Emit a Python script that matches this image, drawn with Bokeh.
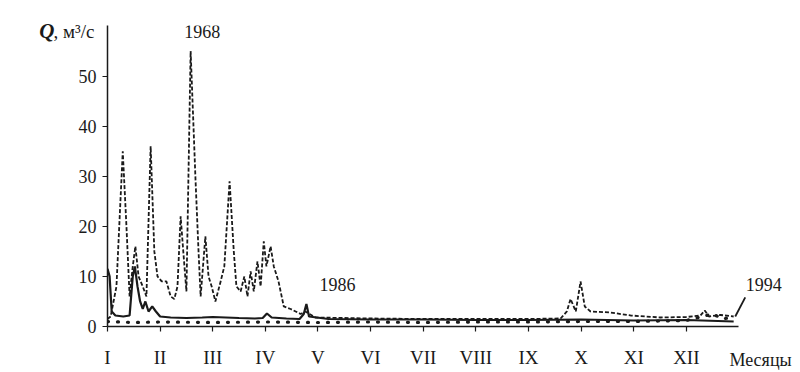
from bokeh.plotting import figure
from bokeh.models import FixedTicker, Range1d, Label, LinearAxis
from bokeh.embed import file_html
from bokeh.resources import INLINE

# ---- data (x in months from 1 Jan, Q in m3/s) ----
months = ["I", "II", "III", "IV", "V", "VI", "VII", "VIII", "IX", "X", "XI", "XII"]
month_pos = [0, 1, 2, 3, 4, 5, 6, 7, 8, 9, 10, 11]
y_ticks = [0, 10, 20, 30, 40, 50]

x_1968 = [0.00, 0.06, 0.17, 0.29, 0.36, 0.42, 0.48, 0.53, 0.59, 0.67, 0.74, 0.82, 0.89, 0.95,
          1.03, 1.12, 1.20, 1.27, 1.33, 1.39, 1.44, 1.50, 1.58, 1.67, 1.73, 1.77, 1.86, 1.92,
          1.98, 2.05, 2.15, 2.22, 2.32, 2.40, 2.45, 2.53, 2.60, 2.66, 2.72, 2.78, 2.85, 2.91,
          2.97, 3.02, 3.10, 3.16, 3.25, 3.35, 3.48, 3.67, 3.76, 3.95, 5.0, 6.0, 7.0, 8.0,
          8.61, 8.73, 8.80, 8.90, 8.99, 9.07, 9.18, 9.56, 9.94, 10.51, 11.0, 11.27, 11.35,
          11.43, 11.65, 11.90]
q_1968 = [1.5, 2, 8, 35, 20, 6, 12, 16, 10, 8, 6, 36, 15, 10,
          9, 9, 6, 5.5, 8, 22, 15, 7, 55, 30, 15, 6, 18, 10,
          8, 5, 9, 12, 29, 15, 8, 7, 10, 6, 11, 7, 13, 8,
          17, 12, 16, 12, 9, 4, 3.5, 2.5, 3, 1.8, 1.6, 1.5, 1.5, 1.5,
          1.6, 3, 5.5, 3, 9, 4, 3, 2.8, 2.2, 1.8, 1.9, 2.2, 3.2,
          2, 2.3, 2]

x_1986 = [0.00, 0.04, 0.08, 0.15, 0.30, 0.42, 0.48, 0.52, 0.57, 0.62, 0.67, 0.72, 0.78, 0.85,
          0.92, 1.0, 1.2, 1.5, 1.8, 2.0, 2.5, 2.8, 2.95, 3.03, 3.12, 3.4, 3.65, 3.73, 3.78,
          3.83, 4.2, 5.0, 6.0, 7.0, 8.0, 9.0, 10.0, 11.0, 11.9]
q_1986 = [11.5, 10, 3, 2.2, 2.0, 2.2, 10, 12, 8, 5, 3.5, 5, 3, 4,
          3, 2, 1.8, 1.7, 1.8, 1.9, 1.7, 1.6, 1.7, 2.6, 1.8, 1.6, 1.5, 2.5, 4.5,
          2, 1.5, 1.4, 1.4, 1.3, 1.3, 1.4, 1.2, 1.3, 1.0]

x_1994 = [0.0, 0.5, 1.0, 2.0, 3.0, 4.0, 5.0, 6.0, 7.0, 8.0, 9.0, 10.0, 11.0, 11.5, 11.7, 11.92]
q_1994 = [1.0, 0.8, 0.9, 0.8, 0.9, 0.8, 0.9, 0.8, 0.9, 0.9, 1.0, 1.0, 1.2, 2.5, 1.5, 2.0]

# leader line for the 1994 label
lead_x = [11.93, 12.12]
lead_q = [2.0, 5.8]

# positions of the axis titles (in axis units)
x_title_pos = 12.41      # "Месяцы"
y_title_pos = 59.0       # "Q, м³/с"

INK = "#1a1a1a"
SERIF = "Liberation Serif"

p = figure(width=800, height=372, output_backend="svg", toolbar_location=None,
           x_range=Range1d(0, 13.17), y_range=Range1d(0, 60.1),
           min_border_left=107, min_border_right=0, min_border_top=25, min_border_bottom=44)
p.outline_line_color = None
p.xgrid.grid_line_color = None
p.ygrid.grid_line_color = None

p.line(x_1968, q_1968, line_color=INK, line_width=1.8, line_dash="4 2")
p.line(x_1986, q_1986, line_color=INK, line_width=2.2)
p.line(x_1994, q_1994, line_color=INK, line_width=3.2, line_dash="1 9", line_cap="round")
p.line(lead_x, lead_q, line_color=INK, line_width=1.8)

# main axes
p.xaxis.ticker = FixedTicker(ticks=month_pos)
p.xaxis.major_label_overrides = {m: lab for m, lab in zip(month_pos, months)}
p.xaxis.bounds = (0, 12.0)
p.yaxis.ticker = FixedTicker(ticks=y_ticks)
for ax in (p.xaxis, p.yaxis):
    ax.axis_line_color = INK
    ax.axis_line_width = 1.5
    ax.major_tick_line_color = INK
    ax.major_tick_line_width = 1.2
    ax.major_tick_out = 5
    ax.major_tick_in = 0
    ax.minor_tick_line_color = None
    ax.major_label_text_font = SERIF
    ax.major_label_text_color = INK
p.xaxis.major_label_text_font_size = "19px"
p.yaxis.major_label_text_font_size = "18px"
p.xaxis.major_label_standoff = 15
p.yaxis.major_label_standoff = 6

# axis titles drawn as label-only axes (so they may sit outside the plotting frame)
def title_axis(side, pos, text, size, style, standoff):
    ax = LinearAxis(ticker=FixedTicker(ticks=[pos]),
                    major_label_overrides={pos: text},
                    axis_line_color=None, major_tick_line_color=None,
                    minor_tick_line_color=None, major_tick_out=0, major_tick_in=0,
                    major_label_text_font=SERIF, major_label_text_font_size=size,
                    major_label_text_font_style=style, major_label_text_color=INK,
                    major_label_standoff=standoff)
    p.add_layout(ax, side)

title_axis("below", x_title_pos, "Месяцы", "18px", "normal", -21)
title_axis("left", y_title_pos, ", м³/с", "19px", "normal", -19)
title_axis("left", y_title_pos, "Q", "21px", "bold italic", -4)

def lab(x, y, t, size="18px", align="center"):
    p.add_layout(Label(x=x, y=y, text=t, text_font=SERIF, text_font_size=size,
                       text_align=align, text_baseline="middle", text_color=INK))

lab(1.8, 59.0, "1968")
lab(4.37, 8.3, "1986")
lab(12.13, 8.3, "1994", align="left")

open("out.html", "w").write(file_html(p, INLINE))
